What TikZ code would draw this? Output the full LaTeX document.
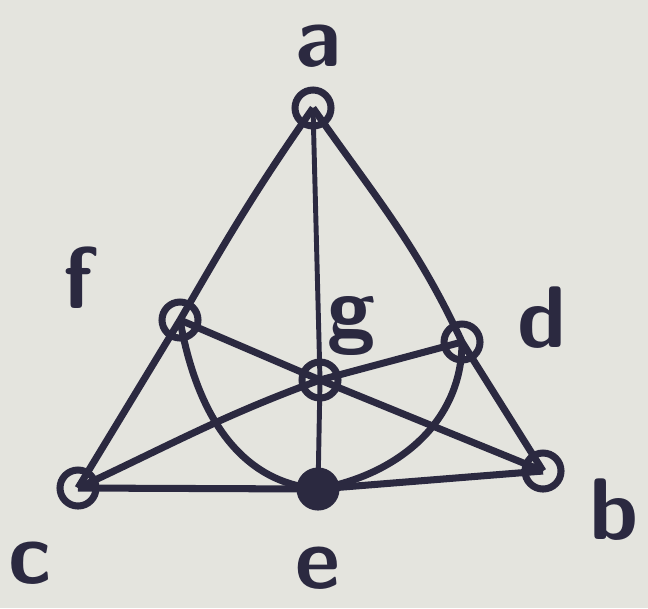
\documentclass[tikz,border=0pt]{standalone}
\usepackage{xcolor}
\usepackage{tikz}
\usetikzlibrary{positioning}
\usetikzlibrary{shapes,calc}

\definecolor{paper}{HTML}{E4E4DE}
\definecolor{ink}{HTML}{2B2940}

\begin{document}
\begin{tikzpicture}[line width=2pt,ink,
  point/.style={circle,draw=ink,line width=2pt,minimum size=0.36cm,inner sep=0pt},
  lbl/.style={font=\Huge\sffamily\bfseries,text=ink}]
\fill[paper] (0,0) rectangle (6.48,6.08);
\useasboundingbox (0,0) rectangle (6.48,6.08);
\node[point] at (3.13,5.00) (a) {};
\node[point] at (1.80,2.88) (f) {};
\node[point] at (3.20,2.28) (g) {};
\node[point] at (4.62,2.66) (d) {};
\node[point] at (0.78,1.20) (c) {};
\node[point,fill=ink] at (3.18,1.19) (e) {};
\node[point] at (5.43,1.37) (b) {};
\node[lbl] at (3.18,5.62) (la) {a};
\node[lbl] at (0.78,3.30) (lf) {f};
\node[lbl] at (3.52,2.82) (lg) {g};
\node[lbl] at (5.42,2.90) (ld) {d};
\node[lbl] at (0.30,0.45) (lc) {c};
\node[lbl] at (3.18,0.40) (le) {e};
\node[lbl] at (6.14,0.98) (lb) {b};
\draw (a.center) to[out=-125,in=60] (f.center) -- (c.center);
\draw (a.center) to[out=-55,in=115] (d.center) -- (b.center);
\draw (c.center) -- (e.center) -- (b.center);
\draw[line width=1.4pt] (a.center) -- (g.center) -- (e.center);
\draw (f.center) -- (g.center) -- (b.center);
\draw (c.center) to[out=25,in=-160] (g.center) -- (d.center);
\draw (f.center) to[out=-80,in=175] (e.center) to[out=10,in=-90] (d.center);
\end{tikzpicture}
\end{document}
